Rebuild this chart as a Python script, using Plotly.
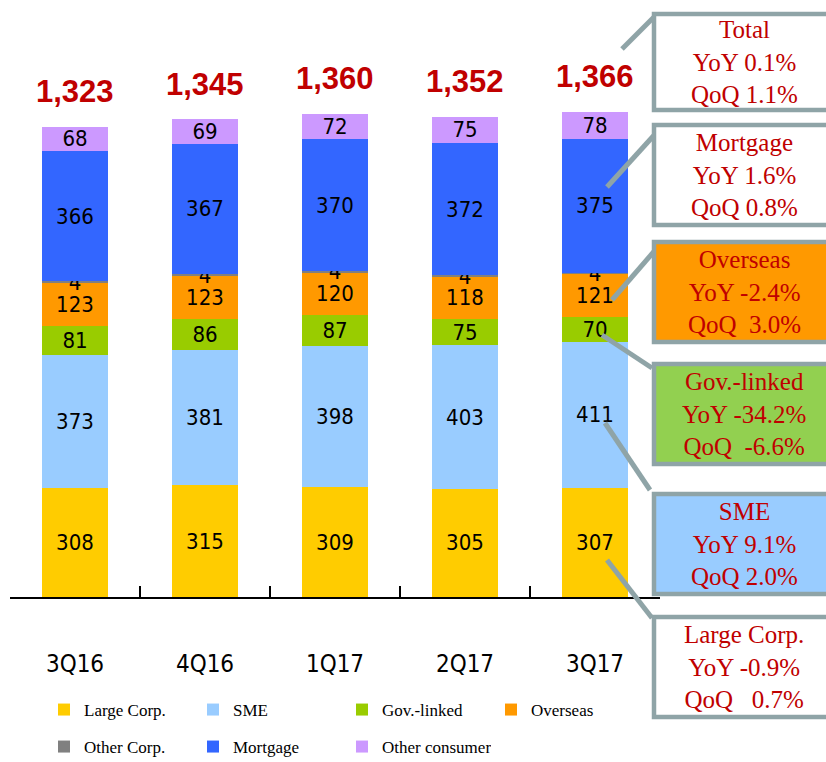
import plotly.graph_objects as go

# ---------------- data ----------------
quarters = ["3Q16", "4Q16", "1Q17", "2Q17", "3Q17"]
large_corp = [308, 315, 309, 305, 307]
sme = [373, 381, 398, 403, 411]
gov_linked = [81, 86, 87, 75, 70]
overseas = [123, 123, 120, 118, 121]
other_corp = [4, 4, 4, 4, 4]
mortgage = [366, 367, 370, 372, 375]
other_consumer = [68, 69, 72, 75, 78]

series_names = ["Large Corp.", "SME", "Gov.-linked", "Overseas",
                "Other Corp.", "Mortgage", "Other consumer"]
series_values = [large_corp, sme, gov_linked, overseas,
                 other_corp, mortgage, other_consumer]
series_colors = ["#FFCC00", "#99CCFF", "#99CC00", "#FF9900",
                 "#808080", "#3366FF", "#CC99FF"]

callout_titles = ["Total", "Mortgage", "Overseas", "Gov.-linked", "SME", "Large Corp."]
callout_yoy = ["YoY 0.1%", "YoY 1.6%", "YoY -2.4%", "YoY -34.2%", "YoY 9.1%", "YoY -0.9%"]
callout_qoq = ["QoQ 1.1%", "QoQ 0.8%", "QoQ\u00a0 3.0%", "QoQ\u00a0 -6.6%", "QoQ 2.0%", "QoQ\u00a0\u00a0 0.7%"]
callout_fills = ["white", "white", "#FF9900", "#92D050", "#99CCFF", "white"]

totals = [sum(v) for v in zip(*series_values)]

# ---------------- layout geometry (pixels) ----------------
W, H = 826, 762
L, R, T, B = 10, 660, 64, 597


def px(x):
    return (x - L) / (R - L)


def py(y):
    return (B - y) / (B - T)


def cy(y):
    return 1 - y / H


NARROW = "DejaVu Sans Condensed, Liberation Sans Narrow, Arial Narrow, sans-serif"
SERIF = "Liberation Serif, Times New Roman, serif"
RED = "#C00000"
BORDER = "#8FA4A7"

fig = go.Figure()
for i, (name, vals, col) in enumerate(zip(series_names, series_values, series_colors)):
    fig.add_trace(go.Bar(
        x=quarters, y=vals, name=name, marker=dict(color=col, line=dict(width=0)),
        text=vals, texttemplate="%{y}", textposition="inside",
        insidetextanchor="middle", constraintext="none", textangle=0,
        textfont=dict(family=NARROW, size=22, color="black"),
        legend="legend" if i < 4 else "legend2",
        hoverinfo="skip",
    ))

annotations = []
for q, t in zip(quarters, totals):
    annotations.append(dict(
        x=q, y=t, xref="x", yref="y", text=f"<b>{t:,}</b>", showarrow=False,
        yanchor="middle", yshift=35,
        font=dict(family="Liberation Sans, Arial, sans-serif", size=31, color=RED)))

# callout boxes
box_tops = [14, 125, 242, 364, 494, 617]
box_bots = [110, 225, 342, 464, 594, 717]
lines_px = [((622, 49), (654, 17)), ((607, 187), (657, 132)), ((612, 300), (657, 248)),
            ((602, 335), (652, 368)), ((605, 423), (650, 490)), ((607, 560), (652, 618))]

shapes = []
for (a, b) in lines_px:
    shapes.append(dict(type="line", xref="paper", yref="paper",
                       x0=px(a[0]), y0=py(a[1]), x1=px(b[0]), y1=py(b[1]),
                       line=dict(color=BORDER, width=5)))
for top, bot, fill, t1, t2, t3 in zip(box_tops, box_bots, callout_fills,
                                      callout_titles, callout_yoy, callout_qoq):
    shapes.append(dict(type="rect", xref="paper", yref="paper",
                       x0=px(654), x1=px(840), y0=py(bot), y1=py(top),
                       fillcolor=fill, line=dict(color=BORDER, width=4.5)))
    annotations.append(dict(
        x=px(744), y=py((top + bot) / 2), xref="paper", yref="paper",
        text=f"{t1}<br>{t2}<br>{t3}", showarrow=False, xanchor="center", yanchor="middle",
        align="center", font=dict(family=SERIF, size=25, color=RED)))

legend_common = dict(orientation="h", xanchor="left", yanchor="middle",
                     xref="paper", yref="container",
                     entrywidth=104, entrywidthmode="pixels",
                     font=dict(family=SERIF, size=17, color="black"),
                     traceorder="normal", bgcolor="rgba(0,0,0,0)")

fig.update_layout(
    width=W, height=H, barmode="stack", bargap=0.49,
    margin=dict(l=L, r=W - R, t=T, b=H - B, autoexpand=False),
    plot_bgcolor="white", paper_bgcolor="white",
    xaxis=dict(showline=True, linecolor="black", linewidth=2,
               ticks="inside", tickson="boundaries", ticklen=11, tickwidth=1.5,
               tickcolor="black", showgrid=False, ticklabelstandoff=44,
               automargin=False,
               tickfont=dict(family=NARROW, size=24, color="black")),
    yaxis=dict(visible=False, range=[0, 1500]),
    legend=dict(x=px(44), y=cy(710), **legend_common),
    legend2=dict(x=px(44), y=cy(747), **legend_common),
    annotations=annotations, shapes=shapes,
    showlegend=True,
)

fig.write_html("out.html")
